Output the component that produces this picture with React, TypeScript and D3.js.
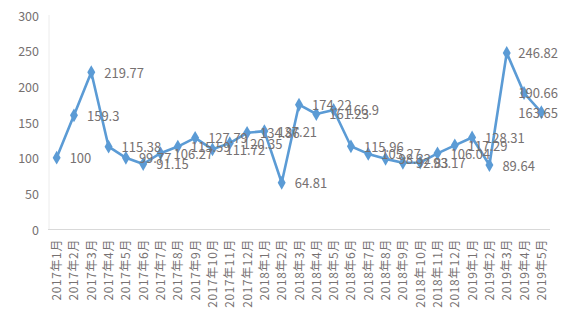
import React from "react";
import * as d3 from "d3";

const categories: string[] = [
  "2017年1月", "2017年2月", "2017年3月", "2017年4月", "2017年5月", "2017年6月",
  "2017年7月", "2017年8月", "2017年9月", "2017年10月", "2017年11月", "2017年12月",
  "2018年1月", "2018年2月", "2018年3月", "2018年4月", "2018年5月", "2018年6月",
  "2018年7月", "2018年8月", "2018年9月", "2018年10月", "2018年11月", "2018年12月",
  "2019年1月", "2019年2月", "2019年3月", "2019年4月", "2019年5月",
];
const values: number[] = [
  100, 159.3, 219.77, 115.38, 99.77, 91.15,
  106.27, 115.59, 127.79, 111.72, 120.35, 134.86,
  137.21, 64.81, 174.22, 161.23, 166.9, 115.96,
  105.27, 98.32, 92.83, 93.17, 106.04, 117.29,
  128.31, 89.64, 246.82, 190.66, 163.65,
];
const yTicks: number[] = [0, 50, 100, 150, 200, 250, 300];

const W = 576;
const H = 317;
const left = 48;
const right = 550;
const top = 15;
const bottom = 229;
const labelLimit = 558;
const lineColor = "#5B9BD5";
const textColor = "#767171";
const font = "'Noto Sans CJK SC', 'Microsoft YaHei', sans-serif";

export default function App() {
  const x = d3.scaleBand<string>().domain(categories).range([left, right]);
  const y = d3.scaleLinear().domain([0, 300]).range([bottom, top]);
  const cx = (c: string) => (x(c) as number) + x.bandwidth() / 2;
  const line = d3
    .line<number>()
    .x((_, i) => cx(categories[i]))
    .y((d) => y(d));
  const diamond = d3.symbol().type(d3.symbolDiamond).size(55)() as string;
  const approxWidth = (s: string) => s.length * 7.2 - (s.includes(".") ? 3.6 : 0);

  return (
    <svg
      width={W}
      height={H}
      style={{ position: "absolute", left: 0, top: 0, background: "#fff" }}
      fontFamily={font}
    >
      <rect x={0} y={0} width={W} height={H} fill="#fff" />
      <line x1={left + 1} x2={left + 1} y1={top} y2={bottom} stroke="#ececec" strokeWidth={1} />
      <line x1={left} x2={right} y1={bottom + 0.5} y2={bottom + 0.5} stroke="#d9d9d9" strokeWidth={1} />
      {yTicks.map((t) => (
        <text
          key={t}
          x={39}
          y={y(t)}
          textAnchor="end"
          dominantBaseline="central"
          fontSize={12.5}
          fill={textColor}
        >
          {t}
        </text>
      ))}
      {categories.map((c) => (
        <text
          key={c}
          transform={`translate(${cx(c) - 1},${bottom + 10}) rotate(-90)`}
          textAnchor="end"
          dominantBaseline="central"
          fontSize={12}
          letterSpacing={0.6}
          fill={textColor}
        >
          {c}
        </text>
      ))}
      <path d={line(values) as string} fill="none" stroke={lineColor} strokeWidth={2.6} strokeLinejoin="round" />
      {values.map((v, i) => (
        <path
          key={i}
          d={diamond}
          transform={`translate(${cx(categories[i])},${y(v)})`}
          fill={lineColor}
        />
      ))}
      {values.map((v, i) => {
        const s = String(v);
        const start = cx(categories[i]) + 13;
        const overflow = start + approxWidth(s) > labelLimit;
        return (
          <text
            key={"l" + i}
            x={overflow ? labelLimit : start}
            y={y(v)}
            textAnchor={overflow ? "end" : "start"}
            dominantBaseline="central"
            fontSize={13}
            fill={textColor}
          >
            {s}
          </text>
        );
      })}
    </svg>
  );
}
